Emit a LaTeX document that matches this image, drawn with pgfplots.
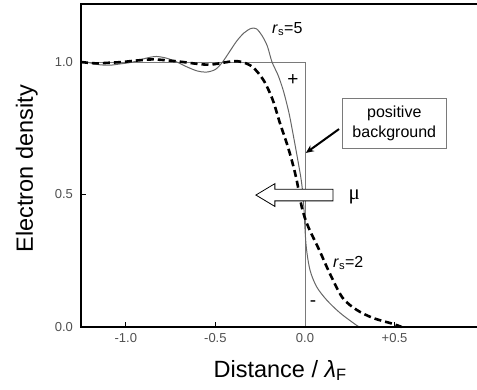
\documentclass[border=0pt]{standalone}
\usepackage{fontspec}
\setmainfont{Liberation Sans}
\newfontfamily\serifmu{Liberation Serif}
\usepackage{pgfplots}
\pgfplotsset{compat=1.18}
\usetikzlibrary{arrows.meta}
\definecolor{tickgray}{HTML}{505050}
\definecolor{curvegray}{HTML}{666666}
\definecolor{stepgray}{HTML}{7A7A7A}

\begin{document}
\begin{tikzpicture}
\useasboundingbox (-81pt,-62pt) rectangle (396pt,327pt);
\begin{axis}[
  scale only axis, width=396pt, height=323pt,
  xmin=-1.25, xmax=0.96, ymin=0, ymax=1.219,
  axis line style={draw=none},
  xtick={-1,-0.5,0,0.5}, xticklabels={-1.0,-0.5,0.0,+0.5},
  ytick={0,0.5,1}, yticklabels={0.0,0.5,1.0},
  xtick pos=left, ytick pos=left,
  tick align=inside, major tick length=5pt,
  tick style={black, line width=0.6pt},
  ticklabel style={font=\fontsize{13}{15}\selectfont, text=tickgray},
  xticklabel style={yshift=-3pt},
  yticklabel style={xshift=-4.5pt},
  xlabel={Distance / {\itshape λ}\textsubscript{F}},
  xlabel style={at={([yshift=-50pt]axis description cs:0.503,0)}, anchor=base,
    font=\fontsize{23.5}{26}\selectfont},
  ylabel={Electron density},
  ylabel style={at={([xshift=-48pt]axis description cs:0,0.49)}, anchor=base, rotate=0,
    font=\fontsize{23.5}{26}\selectfont},
  clip=false,
]
% uniform positive background (jellium step)
\addplot[stepgray, line width=0.8pt] coordinates {(-1.25,1) (0,1) (0,0)};

% r_s = 5 density profile
\addplot[curvegray, line width=1pt, smooth, tension=0.5] coordinates {
(-1.25,1.0) (-1.20,0.997) (-1.15,0.99) (-1.09,0.988) (-1.03,0.993)
(-0.96,1.0) (-0.89,1.014) (-0.83,1.021) (-0.77,1.014) (-0.715,1.0)
(-0.66,0.982) (-0.60,0.966) (-0.55,0.962) (-0.50,0.972) (-0.46,1.0)
(-0.42,1.04) (-0.38,1.08) (-0.34,1.11) (-0.30,1.127) (-0.27,1.125)
(-0.24,1.10) (-0.21,1.06) (-0.184,1.0) (-0.15,0.95) (-0.12,0.89)
(-0.09,0.81) (-0.067,0.73) (-0.04,0.63) (-0.02,0.55) (-0.008,0.47)
(0.006,0.31) (0.028,0.215) (0.065,0.152) (0.121,0.102) (0.196,0.053)
(0.289,0.006) (0.31,0.0)};

% r_s = 2 density profile
\addplot[black, line width=2.6pt, dash pattern=on 7pt off 4pt, smooth, tension=0.5] coordinates {
(-1.25,1.0) (-1.17,0.995) (-1.10,0.997) (-1.02,1.0) (-0.95,1.005)
(-0.85,1.01) (-0.75,1.005) (-0.68,1.0) (-0.60,0.993) (-0.53,0.99)
(-0.46,0.997) (-0.40,1.003) (-0.35,1.0) (-0.29,0.98) (-0.23,0.93)
(-0.18,0.857) (-0.14,0.77) (-0.10,0.69) (-0.07,0.62) (-0.045,0.55)
(-0.017,0.45) (0.017,0.38) (0.08,0.29) (0.14,0.20) (0.21,0.11)
(0.29,0.064) (0.38,0.034) (0.49,0.012) (0.54,0.0)};

% chemical potential arrow
\draw[fill=white, line width=0.8pt]
  (axis cs:0.156,0.476) -- (axis cs:-0.168,0.476) -- (axis cs:-0.168,0.455)
  -- (axis cs:-0.274,0.498) -- (axis cs:-0.168,0.541) -- (axis cs:-0.168,0.520)
  -- (axis cs:0.156,0.520) -- cycle;
\node[font=\serifmu\fontsize{21}{23}\selectfont, anchor=center] at (axis cs:0.275,0.49) {μ};

% annotation box
\node[draw=stepgray, line width=0.8pt, minimum width=104pt, minimum height=50pt,
  align=center, inner sep=2pt, font=\fontsize{16}{20}\selectfont]
  at (axis cs:0.4985,0.77) {positive\\background};
\draw[line width=2pt, -{Stealth[length=8pt,width=7pt]}]
  (axis cs:0.19,0.747) -- (axis cs:0.005,0.657);

\node[font=\fontsize{19}{21}\selectfont] at (axis cs:-0.067,0.932) {+};
\node[font=\fontsize{19}{21}\selectfont] at (axis cs:0.045,0.09) {-};

\node[anchor=base west, inner sep=0pt, font=\fontsize{16}{18}\selectfont]
  at (axis cs:-0.184,1.109) {\textit{r}\textsubscript{s}=5};
\node[anchor=base west, inner sep=0pt, font=\fontsize{16}{18}\selectfont]
  at (axis cs:0.156,0.226) {\textit{r}\textsubscript{s}=2};
\end{axis}
% frame: left, top and bottom edges
\draw[line width=2.6pt, line cap=rect] (396pt,323pt) -- (0,323pt) -- (0,0) -- (396pt,0);
\end{tikzpicture}
\end{document}
